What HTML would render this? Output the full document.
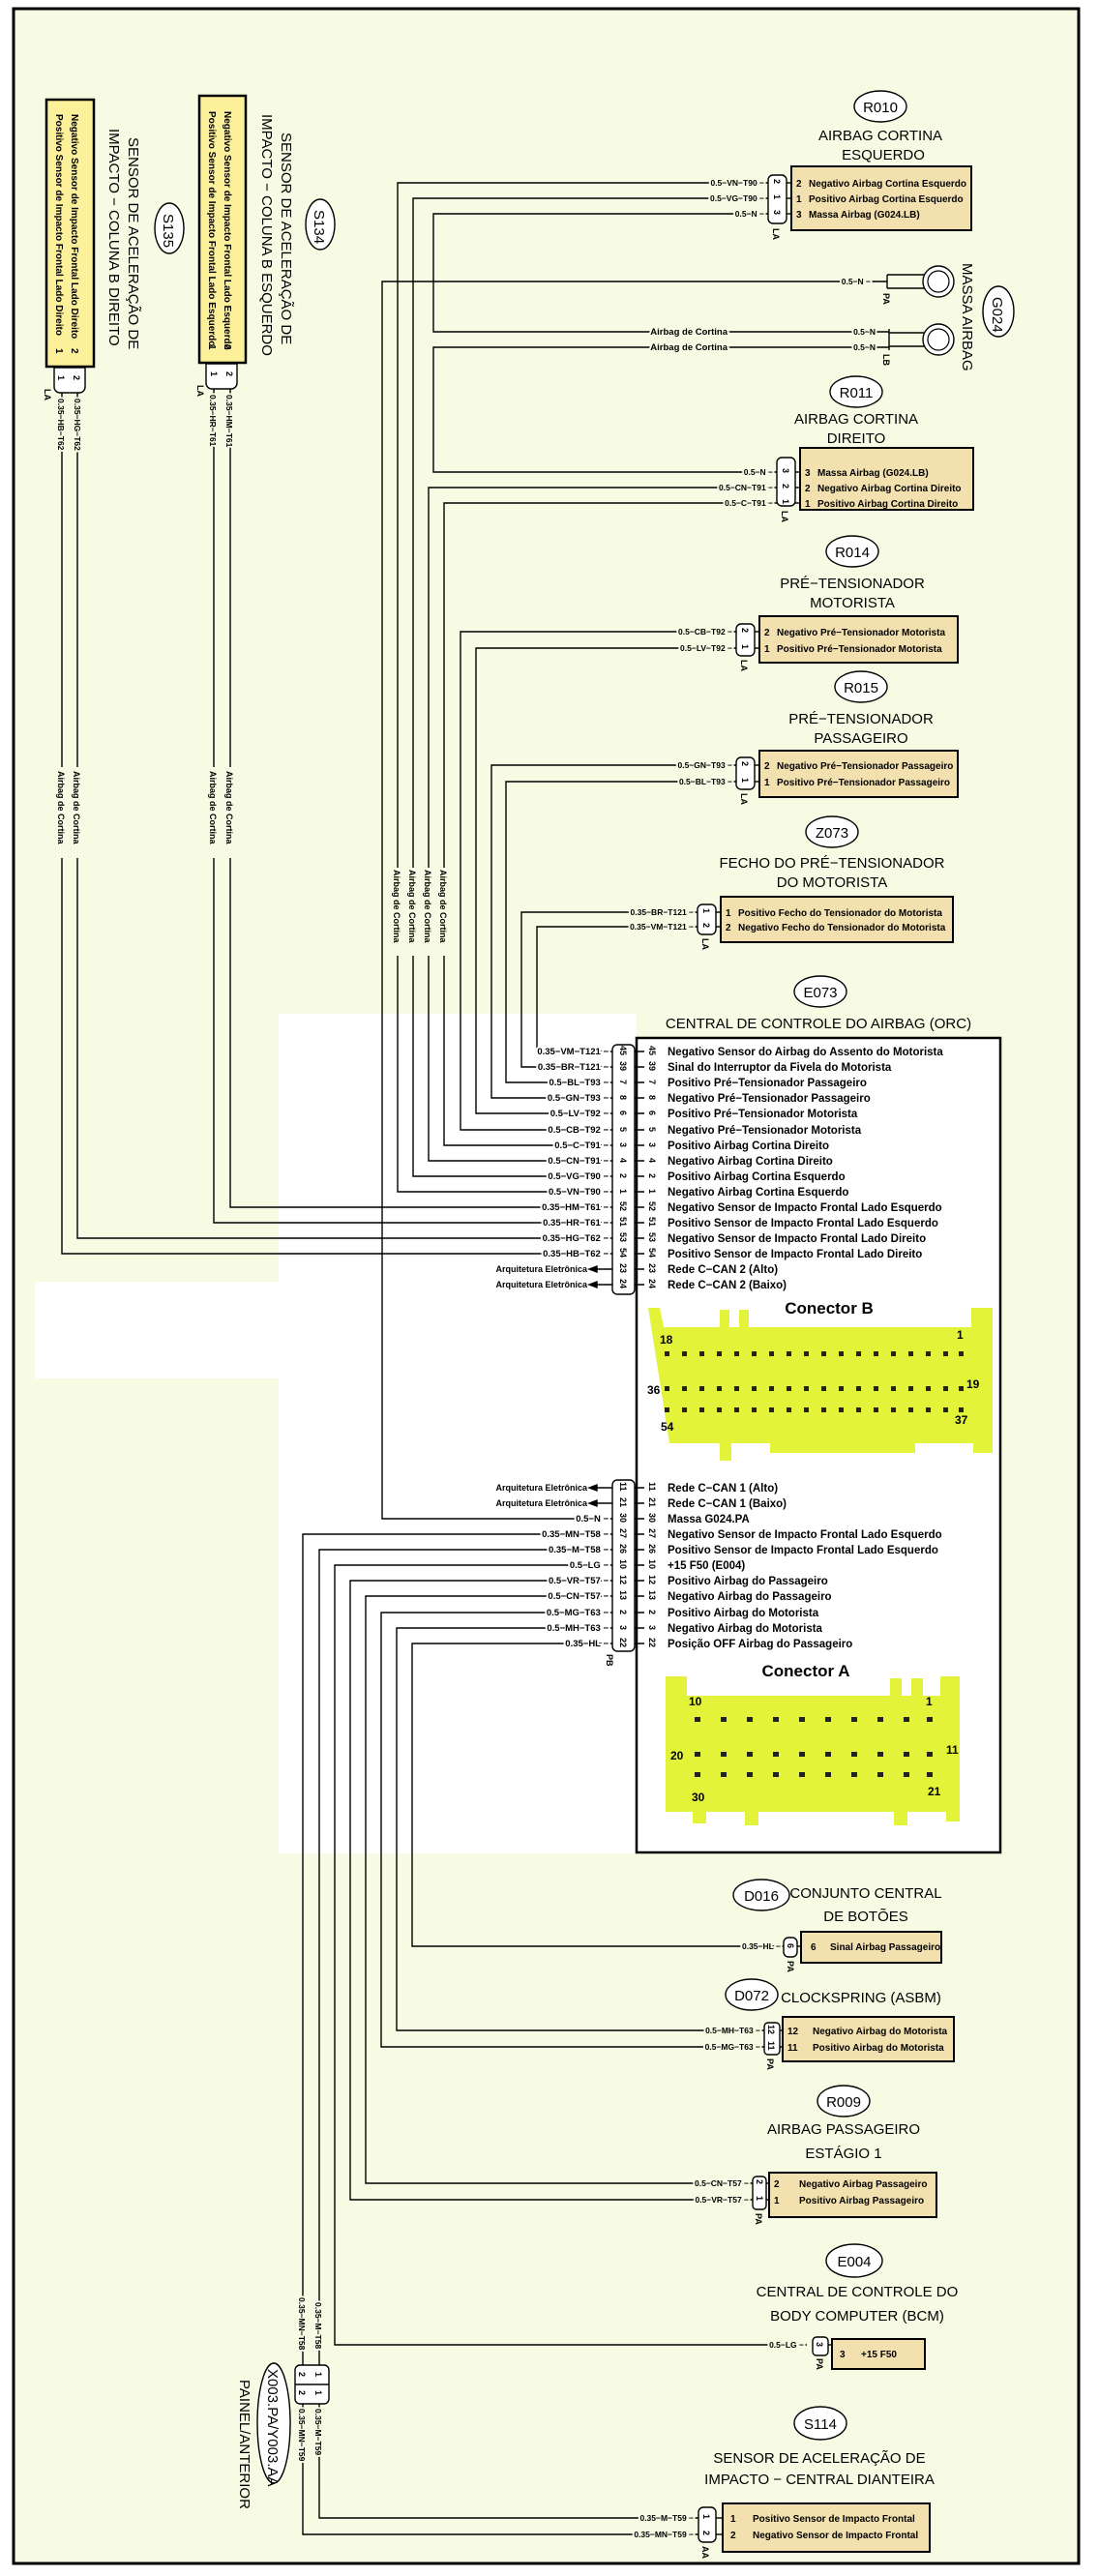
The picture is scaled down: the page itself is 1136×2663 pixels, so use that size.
<!DOCTYPE html>
<html><head><meta charset="utf-8"><style>
html,body{margin:0;padding:0;background:#fff}
svg{display:block}
text{font-family:"Liberation Sans Narrow","Liberation Sans",sans-serif;fill:#000}
.t{font-size:15px}
.d{font-size:10px;font-weight:bold}
.e{font-size:11.5px;font-weight:bold}
.w{font-size:8.5px;font-weight:bold;paint-order:stroke;stroke:#f7fbe4;stroke-width:4px}
.ww{font-size:9.5px;font-weight:bold;paint-order:stroke;stroke:#fff;stroke-width:4px}
.p{font-size:9px;font-weight:bold}
.o{font-size:15px}
.c{font-size:17px;font-weight:bold;font-family:"Liberation Sans",sans-serif}
.n{font-size:12px;font-weight:bold;font-family:"Liberation Sans",sans-serif}
line,polyline,path{stroke:#000;stroke-width:1.4;fill:none}
</style></head><body>
<svg width="1136" height="2663" viewBox="0 0 1136 2663" xmlns="http://www.w3.org/2000/svg">
<rect x="0" y="0" width="1136" height="2663" fill="#fff"/>
<rect x="14" y="9" width="1101" height="2641" fill="#f7fbe4" stroke="#000" stroke-width="3"/>
<rect x="288" y="1048" width="370" height="868" fill="#fff"/>
<rect x="36" y="1325" width="252" height="100" fill="#fff"/>

<!-- S135 -->
<rect x="48" y="103" width="49" height="276" fill="#fcf19a" stroke="#000" stroke-width="2.5"/>
<text class="d" transform="translate(74,118) rotate(90)">Negativo Sensor de Impacto Frontal Lado Direito</text>
<text class="d" transform="translate(58,118) rotate(90)">Positivo Sensor de Impacto Frontal Lado Direito</text>
<text class="d" transform="translate(74,360) rotate(90)">2</text>
<text class="d" transform="translate(58,360) rotate(90)">1</text>
<path d="M56,380 h32 v20 a6,6 0 0 1 -6,6 h-20 a6,6 0 0 1 -6,-6 z" style="fill:#fff"/>
<text class="p" transform="translate(76,388) rotate(90)">2</text>
<text class="p" transform="translate(60,388) rotate(90)">1</text>
<text class="p" transform="translate(46,402) rotate(90)">LA</text>
<text class="t" transform="translate(133,142) rotate(90)">SENSOR DE ACELERAÇÃO DE</text>
<text class="t" transform="translate(113,133) rotate(90)">IMPACTO − COLUNA B DIREITO</text>
<ellipse cx="175" cy="236" rx="15" ry="26" fill="#fff" stroke="#000" stroke-width="1.4"/>
<text class="o" transform="translate(169,221) rotate(90)">S135</text>
<line x1="64" y1="406" x2="64" y2="793"/><line x1="80" y1="406" x2="80" y2="793"/>
<text class="w" transform="translate(60,412) rotate(90)">0.35−HB−T62</text>
<text class="w" transform="translate(77,412) rotate(90)">0.35−HG−T62</text>
<text class="p" transform="translate(60,797) rotate(90)">Airbag de Cortina</text>
<text class="p" transform="translate(76,797) rotate(90)">Airbag de Cortina</text>
<polyline points="64,887 64,1296 633,1296"/>
<polyline points="80,887 80,1280 633,1280"/>

<!-- S134 -->
<rect x="206" y="99" width="48" height="276" fill="#fcf19a" stroke="#000" stroke-width="2.5"/>
<text class="d" transform="translate(232,115) rotate(90)">Negativo Sensor de Impacto Frontal Lado Esquerdo</text>
<text class="d" transform="translate(216,115) rotate(90)">Positivo Sensor de Impacto Frontal Lado Esquerdo</text>
<text class="d" transform="translate(232,356) rotate(90)">2</text>
<text class="d" transform="translate(216,356) rotate(90)">1</text>
<path d="M213,376 h32 v20 a6,6 0 0 1 -6,6 h-20 a6,6 0 0 1 -6,-6 z" style="fill:#fff"/>
<text class="p" transform="translate(234,384) rotate(90)">2</text>
<text class="p" transform="translate(218,384) rotate(90)">1</text>
<text class="p" transform="translate(204,398) rotate(90)">LA</text>
<text class="t" transform="translate(291,137) rotate(90)">SENSOR DE ACELERAÇÃO DE</text>
<text class="t" transform="translate(271,118) rotate(90)">IMPACTO − COLUNA B ESQUERDO</text>
<ellipse cx="331" cy="232" rx="15" ry="26" fill="#fff" stroke="#000" stroke-width="1.4"/>
<text class="o" transform="translate(325,217) rotate(90)">S134</text>
<line x1="221" y1="402" x2="221" y2="793"/><line x1="238" y1="402" x2="238" y2="793"/>
<text class="w" transform="translate(217,408) rotate(90)">0.35−HR−T61</text>
<text class="w" transform="translate(234,408) rotate(90)">0.35−HM−T61</text>
<text class="p" transform="translate(217,797) rotate(90)">Airbag de Cortina</text>
<text class="p" transform="translate(234,797) rotate(90)">Airbag de Cortina</text>
<polyline points="221,887 221,1264 633,1264"/>
<polyline points="238,887 238,1248 633,1248"/>

<!-- vertical bus wires -->
<polyline points="917,291 395,291 395,1570 633,1570"/>
<polyline points="794,189 411,189 411,897"/><polyline points="411,988 411,1232 633,1232"/>
<polyline points="794,205 427,205 427,897"/><polyline points="427,988 427,1216 633,1216"/>
<polyline points="803,504 443,504 443,897"/><polyline points="443,988 443,1200 633,1200"/>
<polyline points="803,520 459,520 459,897"/><polyline points="459,988 459,1184 633,1184"/>
<text class="p" transform="translate(407,899) rotate(90)">Airbag de Cortina</text>
<text class="p" transform="translate(423,899) rotate(90)">Airbag de Cortina</text>
<text class="p" transform="translate(439,899) rotate(90)">Airbag de Cortina</text>
<text class="p" transform="translate(455,899) rotate(90)">Airbag de Cortina</text>
<polyline points="794,221 448,221 448,343 915,343"/>
<polyline points="803,488 448,488 448,359 915,359"/>
<polyline points="761,653 476,653 476,1168 633,1168"/>
<polyline points="761,670 492,670 492,1151 633,1151"/>
<polyline points="761,791 508,791 508,1135 633,1135"/>
<polyline points="761,808 523,808 523,1119 633,1119"/>
<polyline points="721,943 539,943 539,1103 633,1103"/>
<polyline points="721,958 555,958 555,1087 633,1087"/>

<!-- R010 -->
<ellipse cx="910" cy="110" rx="27" ry="16" fill="#fff" stroke="#000" stroke-width="1.4"/>
<text class="o" x="910" y="116" text-anchor="middle">R010</text>
<text class="t" x="910" y="145" text-anchor="middle">AIRBAG CORTINA</text>
<text class="t" x="913" y="165" text-anchor="middle">ESQUERDO</text>
<rect x="818" y="172" width="186" height="66" fill="#f2e0ae" stroke="#000" stroke-width="2"/>
<rect x="794" y="181" width="19" height="50" rx="5" fill="#fff" stroke="#000" stroke-width="1.4"/>
<line x1="813" y1="189" x2="818" y2="189"/><line x1="813" y1="205" x2="818" y2="205"/><line x1="813" y1="221" x2="818" y2="221"/>
<text class="w" x="790" y="192" text-anchor="end">0.5−VN−T90 −</text>
<text class="w" x="790" y="208" text-anchor="end">0.5−VG−T90 −</text>
<text class="w" x="790" y="224" text-anchor="end">0.5−N −</text>
<text class="p" transform="translate(800,185) rotate(90)">2</text>
<text class="p" transform="translate(800,201) rotate(90)">1</text>
<text class="p" transform="translate(800,217) rotate(90)">3</text>
<text class="p" transform="translate(799,236) rotate(90)">LA</text>
<text class="d" x="823" y="193">2</text><text class="d" x="836" y="193">Negativo Airbag Cortina Esquerdo</text>
<text class="d" x="823" y="209">1</text><text class="d" x="836" y="209">Positivo Airbag Cortina Esquerdo</text>
<text class="d" x="823" y="225">3</text><text class="d" x="836" y="225">Massa Airbag (G024.LB)</text>

<!-- G024 -->
<text class="w" x="900" y="294" text-anchor="end">0.5−N −</text>
<path d="M917,284 h38 M917,298 h38 M917,284 v14"/>
<circle cx="970" cy="291" r="16" fill="#fff" stroke="#000" stroke-width="1.4"/><circle cx="970" cy="291" r="11" fill="none" stroke="#000" stroke-width="1.2"/>
<text class="p" transform="translate(913,303) rotate(90)">PA</text>
<text class="ww" x="752" y="346" text-anchor="end" style="stroke:#f7fbe4">Airbag de Cortina</text>
<text class="ww" x="752" y="362" text-anchor="end" style="stroke:#f7fbe4">Airbag de Cortina</text>
<text class="w" x="905" y="346" text-anchor="end">0.5−N</text>
<text class="w" x="905" y="362" text-anchor="end">0.5−N</text>
<path d="M915,343 h4 M915,359 h4 M919,340 v22 M919,344 h36 M919,358 h36"/>
<circle cx="970" cy="351" r="16" fill="#fff" stroke="#000" stroke-width="1.4"/><circle cx="970" cy="351" r="11" fill="none" stroke="#000" stroke-width="1.2"/>
<text class="p" transform="translate(913,366) rotate(90)">LB</text>
<text class="t" transform="translate(995,272) rotate(90)">MASSA AIRBAG</text>
<ellipse cx="1032" cy="322" rx="16" ry="26" fill="#fff" stroke="#000" stroke-width="1.4"/>
<text class="o" transform="translate(1026,307) rotate(90)">G024</text>

<!-- R011 -->
<ellipse cx="885" cy="405" rx="27" ry="16" fill="#fff" stroke="#000" stroke-width="1.4"/>
<text class="o" x="885" y="411" text-anchor="middle">R011</text>
<text class="t" x="885" y="438" text-anchor="middle">AIRBAG CORTINA</text>
<text class="t" x="885" y="458" text-anchor="middle">DIREITO</text>
<rect x="827" y="463" width="179" height="64" fill="#f2e0ae" stroke="#000" stroke-width="2"/>
<rect x="803" y="473" width="19" height="50" rx="5" fill="#fff" stroke="#000" stroke-width="1.4"/>
<line x1="822" y1="488" x2="827" y2="488"/><line x1="822" y1="504" x2="827" y2="504"/><line x1="822" y1="520" x2="827" y2="520"/>
<text class="w" x="799" y="491" text-anchor="end">0.5−N −</text>
<text class="w" x="799" y="507" text-anchor="end">0.5−CN−T91 −</text>
<text class="w" x="799" y="523" text-anchor="end">0.5−C−T91 −</text>
<text class="p" transform="translate(809,484) rotate(90)">3</text>
<text class="p" transform="translate(809,500) rotate(90)">2</text>
<text class="p" transform="translate(809,516) rotate(90)">1</text>
<text class="p" transform="translate(808,528) rotate(90)">LA</text>
<text class="d" x="832" y="492">3</text><text class="d" x="845" y="492">Massa Airbag (G024.LB)</text>
<text class="d" x="832" y="508">2</text><text class="d" x="845" y="508">Negativo Airbag Cortina Direito</text>
<text class="d" x="832" y="524">1</text><text class="d" x="845" y="524">Positivo Airbag Cortina Direito</text>

<!-- R014 -->
<ellipse cx="881" cy="570" rx="27" ry="16" fill="#fff" stroke="#000" stroke-width="1.4"/>
<text class="o" x="881" y="576" text-anchor="middle">R014</text>
<text class="t" x="881" y="608" text-anchor="middle">PRÉ−TENSIONADOR</text>
<text class="t" x="881" y="628" text-anchor="middle">MOTORISTA</text>
<rect x="785" y="637" width="205" height="48" fill="#f2e0ae" stroke="#000" stroke-width="2"/>
<rect x="761" y="645" width="19" height="33" rx="5" fill="#fff" stroke="#000" stroke-width="1.4"/>
<line x1="780" y1="653" x2="785" y2="653"/><line x1="780" y1="670" x2="785" y2="670"/>
<text class="w" x="757" y="656" text-anchor="end">0.5−CB−T92 −</text>
<text class="w" x="757" y="673" text-anchor="end">0.5−LV−T92 −</text>
<text class="p" transform="translate(767,649) rotate(90)">2</text>
<text class="p" transform="translate(767,666) rotate(90)">1</text>
<text class="p" transform="translate(766,682) rotate(90)">LA</text>
<text class="d" x="790" y="657">2</text><text class="d" x="803" y="657">Negativo Pré−Tensionador Motorista</text>
<text class="d" x="790" y="674">1</text><text class="d" x="803" y="674">Positivo Pré−Tensionador Motorista</text>

<!-- R015 -->
<ellipse cx="890" cy="710" rx="27" ry="16" fill="#fff" stroke="#000" stroke-width="1.4"/>
<text class="o" x="890" y="716" text-anchor="middle">R015</text>
<text class="t" x="890" y="748" text-anchor="middle">PRÉ−TENSIONADOR</text>
<text class="t" x="890" y="768" text-anchor="middle">PASSAGEIRO</text>
<rect x="785" y="776" width="205" height="48" fill="#f2e0ae" stroke="#000" stroke-width="2"/>
<rect x="761" y="783" width="19" height="33" rx="5" fill="#fff" stroke="#000" stroke-width="1.4"/>
<line x1="780" y1="791" x2="785" y2="791"/><line x1="780" y1="808" x2="785" y2="808"/>
<text class="w" x="757" y="794" text-anchor="end">0.5−GN−T93 −</text>
<text class="w" x="757" y="811" text-anchor="end">0.5−BL−T93 −</text>
<text class="p" transform="translate(767,787) rotate(90)">2</text>
<text class="p" transform="translate(767,804) rotate(90)">1</text>
<text class="p" transform="translate(766,820) rotate(90)">LA</text>
<text class="d" x="790" y="795">2</text><text class="d" x="803" y="795">Negativo Pré−Tensionador Passageiro</text>
<text class="d" x="790" y="812">1</text><text class="d" x="803" y="812">Positivo Pré−Tensionador Passageiro</text>

<!-- Z073 -->
<ellipse cx="860" cy="860" rx="27" ry="16" fill="#fff" stroke="#000" stroke-width="1.4"/>
<text class="o" x="860" y="866" text-anchor="middle">Z073</text>
<text class="t" x="860" y="897" text-anchor="middle">FECHO DO PRÉ−TENSIONADOR</text>
<text class="t" x="860" y="917" text-anchor="middle">DO MOTORISTA</text>
<rect x="745" y="927" width="240" height="47" fill="#f2e0ae" stroke="#000" stroke-width="2"/>
<rect x="721" y="935" width="19" height="31" rx="5" fill="#fff" stroke="#000" stroke-width="1.4"/>
<line x1="740" y1="943" x2="745" y2="943"/><line x1="740" y1="958" x2="745" y2="958"/>
<text class="w" x="717" y="946" text-anchor="end">0.35−BR−T121 −</text>
<text class="w" x="717" y="961" text-anchor="end">0.35−VM−T121 −</text>
<text class="p" transform="translate(727,939) rotate(90)">1</text>
<text class="p" transform="translate(727,954) rotate(90)">2</text>
<text class="p" transform="translate(726,970) rotate(90)">LA</text>
<text class="d" x="750" y="947">1</text><text class="d" x="763" y="947">Positivo Fecho do Tensionador do Motorista</text>
<text class="d" x="750" y="962">2</text><text class="d" x="763" y="962">Negativo Fecho do Tensionador do Motorista</text>

<!-- E073 -->
<ellipse cx="848" cy="1025" rx="27" ry="16" fill="#fff" stroke="#000" stroke-width="1.4"/>
<text class="o" x="848" y="1031" text-anchor="middle">E073</text>
<text class="t" x="846" y="1063" text-anchor="middle">CENTRAL DE CONTROLE DO AIRBAG (ORC)</text>
<rect x="658" y="1073" width="376" height="842" fill="#fff" stroke="#000" stroke-width="2.5"/>
<rect x="633" y="1080" width="23" height="258" rx="5" fill="#fff" stroke="#000" stroke-width="1.4"/>
<rect x="633" y="1530" width="23" height="177" rx="5" fill="#fff" stroke="#000" stroke-width="1.4"/>
<g>
<text class="e" x="690" y="1091">Negativo Sensor do Airbag do Assento do Motorista</text>
<text class="e" x="690" y="1107">Sinal do Interruptor da Fivela do Motorista</text>
<text class="e" x="690" y="1123">Positivo Pré−Tensionador Passageiro</text>
<text class="e" x="690" y="1139">Negativo Pré−Tensionador Passageiro</text>
<text class="e" x="690" y="1155">Positivo Pré−Tensionador Motorista</text>
<text class="e" x="690" y="1172">Negativo Pré−Tensionador Motorista</text>
<text class="e" x="690" y="1188">Positivo Airbag Cortina Direito</text>
<text class="e" x="690" y="1204">Negativo Airbag Cortina Direito</text>
<text class="e" x="690" y="1220">Positivo Airbag Cortina Esquerdo</text>
<text class="e" x="690" y="1236">Negativo Airbag Cortina Esquerdo</text>
<text class="e" x="690" y="1252">Negativo Sensor de Impacto Frontal Lado Esquerdo</text>
<text class="e" x="690" y="1268">Positivo Sensor de Impacto Frontal Lado Esquerdo</text>
<text class="e" x="690" y="1284">Negativo Sensor de Impacto Frontal Lado Direito</text>
<text class="e" x="690" y="1300">Positivo Sensor de Impacto Frontal Lado Direito</text>
<text class="e" x="690" y="1316">Rede C−CAN 2 (Alto)</text>
<text class="e" x="690" y="1332">Rede C−CAN 2 (Baixo)</text>
</g>
<g>
<text class="p" transform="translate(641,1081) rotate(90)">45</text><text class="p" transform="translate(671,1081) rotate(90)">45</text>
<text class="p" transform="translate(641,1097) rotate(90)">39</text><text class="p" transform="translate(671,1097) rotate(90)">39</text>
<text class="p" transform="translate(641,1116) rotate(90)">7</text><text class="p" transform="translate(671,1116) rotate(90)">7</text>
<text class="p" transform="translate(641,1132) rotate(90)">8</text><text class="p" transform="translate(671,1132) rotate(90)">8</text>
<text class="p" transform="translate(641,1148) rotate(90)">6</text><text class="p" transform="translate(671,1148) rotate(90)">6</text>
<text class="p" transform="translate(641,1165) rotate(90)">5</text><text class="p" transform="translate(671,1165) rotate(90)">5</text>
<text class="p" transform="translate(641,1181) rotate(90)">3</text><text class="p" transform="translate(671,1181) rotate(90)">3</text>
<text class="p" transform="translate(641,1197) rotate(90)">4</text><text class="p" transform="translate(671,1197) rotate(90)">4</text>
<text class="p" transform="translate(641,1213) rotate(90)">2</text><text class="p" transform="translate(671,1213) rotate(90)">2</text>
<text class="p" transform="translate(641,1229) rotate(90)">1</text><text class="p" transform="translate(671,1229) rotate(90)">1</text>
<text class="p" transform="translate(641,1242) rotate(90)">52</text><text class="p" transform="translate(671,1242) rotate(90)">52</text>
<text class="p" transform="translate(641,1258) rotate(90)">51</text><text class="p" transform="translate(671,1258) rotate(90)">51</text>
<text class="p" transform="translate(641,1274) rotate(90)">53</text><text class="p" transform="translate(671,1274) rotate(90)">53</text>
<text class="p" transform="translate(641,1290) rotate(90)">54</text><text class="p" transform="translate(671,1290) rotate(90)">54</text>
<text class="p" transform="translate(641,1306) rotate(90)">23</text><text class="p" transform="translate(671,1306) rotate(90)">23</text>
<text class="p" transform="translate(641,1322) rotate(90)">24</text><text class="p" transform="translate(671,1322) rotate(90)">24</text>
</g>
<path d="M656,1087h10M656,1103h10M656,1119h10M656,1135h10M656,1151h10M656,1168h10M656,1184h10M656,1200h10M656,1216h10M656,1232h10M656,1248h10M656,1264h10M656,1280h10M656,1296h10M656,1312h10M656,1328h10"/>
<g>
<text class="ww" x="629" y="1090" text-anchor="end">0.35−VM−T121 −</text>
<text class="ww" x="629" y="1106" text-anchor="end">0.35−BR−T121 −</text>
<text class="ww" x="629" y="1122" text-anchor="end">0.5−BL−T93 −</text>
<text class="ww" x="629" y="1138" text-anchor="end">0.5−GN−T93 −</text>
<text class="ww" x="629" y="1154" text-anchor="end">0.5−LV−T92 −</text>
<text class="ww" x="629" y="1171" text-anchor="end">0.5−CB−T92 −</text>
<text class="ww" x="629" y="1187" text-anchor="end">0.5−C−T91 −</text>
<text class="ww" x="629" y="1203" text-anchor="end">0.5−CN−T91 −</text>
<text class="ww" x="629" y="1219" text-anchor="end">0.5−VG−T90 −</text>
<text class="ww" x="629" y="1235" text-anchor="end">0.5−VN−T90 −</text>
<text class="ww" x="629" y="1251" text-anchor="end">0.35−HM−T61 −</text>
<text class="ww" x="629" y="1267" text-anchor="end">0.35−HR−T61 −</text>
<text class="ww" x="629" y="1283" text-anchor="end">0.35−HG−T62 −</text>
<text class="ww" x="629" y="1299" text-anchor="end">0.35−HB−T62 −</text>
<text class="p" x="607" y="1315" text-anchor="end">Arquitetura Eletrônica</text>
<text class="p" x="607" y="1331" text-anchor="end">Arquitetura Eletrônica</text>
</g>
<path d="M610,1312h23M610,1328h23"/>
<path d="M609,1312l8,-3v6z M609,1328l8,-3v6z" style="fill:#000"/>

<!-- Conector B photo -->
<text class="c" x="857" y="1358" text-anchor="middle">Conector B</text>
<path d="M670,1352 h12 l4,20 h58 v-18 h10 v18 h10 v-18 h10 v18 h230 v-20 h22 v150 h-20 v-10 h-60 v10 h-150 v-10 h-40 v18 h-12 v-18 h-52 z" style="fill:#e2f33a;stroke:none"/>
<g fill="#222">
<rect x="687" y="1397" width="5" height="5"/><rect x="705" y="1397" width="5" height="5"/><rect x="723" y="1397" width="5" height="5"/><rect x="741" y="1397" width="5" height="5"/><rect x="759" y="1397" width="5" height="5"/><rect x="777" y="1397" width="5" height="5"/><rect x="795" y="1397" width="5" height="5"/><rect x="813" y="1397" width="5" height="5"/><rect x="831" y="1397" width="5" height="5"/><rect x="849" y="1397" width="5" height="5"/><rect x="867" y="1397" width="5" height="5"/><rect x="885" y="1397" width="5" height="5"/><rect x="903" y="1397" width="5" height="5"/><rect x="921" y="1397" width="5" height="5"/><rect x="939" y="1397" width="5" height="5"/><rect x="957" y="1397" width="5" height="5"/><rect x="975" y="1397" width="5" height="5"/><rect x="991" y="1397" width="5" height="5"/>
<rect x="687" y="1433" width="5" height="5"/><rect x="705" y="1433" width="5" height="5"/><rect x="723" y="1433" width="5" height="5"/><rect x="741" y="1433" width="5" height="5"/><rect x="759" y="1433" width="5" height="5"/><rect x="777" y="1433" width="5" height="5"/><rect x="795" y="1433" width="5" height="5"/><rect x="813" y="1433" width="5" height="5"/><rect x="831" y="1433" width="5" height="5"/><rect x="849" y="1433" width="5" height="5"/><rect x="867" y="1433" width="5" height="5"/><rect x="885" y="1433" width="5" height="5"/><rect x="903" y="1433" width="5" height="5"/><rect x="921" y="1433" width="5" height="5"/><rect x="939" y="1433" width="5" height="5"/><rect x="957" y="1433" width="5" height="5"/><rect x="975" y="1433" width="5" height="5"/><rect x="991" y="1433" width="5" height="5"/>
<rect x="687" y="1455" width="5" height="5"/><rect x="705" y="1455" width="5" height="5"/><rect x="723" y="1455" width="5" height="5"/><rect x="741" y="1455" width="5" height="5"/><rect x="759" y="1455" width="5" height="5"/><rect x="777" y="1455" width="5" height="5"/><rect x="795" y="1455" width="5" height="5"/><rect x="813" y="1455" width="5" height="5"/><rect x="831" y="1455" width="5" height="5"/><rect x="849" y="1455" width="5" height="5"/><rect x="867" y="1455" width="5" height="5"/><rect x="885" y="1455" width="5" height="5"/><rect x="903" y="1455" width="5" height="5"/><rect x="921" y="1455" width="5" height="5"/><rect x="939" y="1455" width="5" height="5"/><rect x="957" y="1455" width="5" height="5"/><rect x="975" y="1455" width="5" height="5"/><rect x="991" y="1455" width="5" height="5"/>
</g>
<text class="n" x="682" y="1389">18</text><text class="n" x="989" y="1384">1</text>
<text class="n" x="669" y="1441">36</text><text class="n" x="999" y="1435">19</text>
<text class="n" x="683" y="1479">54</text><text class="n" x="987" y="1472">37</text>

<!-- Conector A pins -->
<g>
<text class="e" x="690" y="1542">Rede C−CAN 1 (Alto)</text>
<text class="e" x="690" y="1558">Rede C−CAN 1 (Baixo)</text>
<text class="e" x="690" y="1574">Massa G024.PA</text>
<text class="e" x="690" y="1590">Negativo Sensor de Impacto Frontal Lado Esquerdo</text>
<text class="e" x="690" y="1606">Positivo Sensor de Impacto Frontal Lado Esquerdo</text>
<text class="e" x="690" y="1622">+15 F50 (E004)</text>
<text class="e" x="690" y="1638">Positivo Airbag do Passageiro</text>
<text class="e" x="690" y="1654">Negativo Airbag do Passageiro</text>
<text class="e" x="690" y="1671">Positivo Airbag do Motorista</text>
<text class="e" x="690" y="1687">Negativo Airbag do Motorista</text>
<text class="e" x="690" y="1703">Posição OFF Airbag do Passageiro</text>
</g>
<g>
<text class="p" transform="translate(641,1532) rotate(90)">11</text><text class="p" transform="translate(671,1532) rotate(90)">11</text>
<text class="p" transform="translate(641,1548) rotate(90)">21</text><text class="p" transform="translate(671,1548) rotate(90)">21</text>
<text class="p" transform="translate(641,1564) rotate(90)">30</text><text class="p" transform="translate(671,1564) rotate(90)">30</text>
<text class="p" transform="translate(641,1580) rotate(90)">27</text><text class="p" transform="translate(671,1580) rotate(90)">27</text>
<text class="p" transform="translate(641,1596) rotate(90)">26</text><text class="p" transform="translate(671,1596) rotate(90)">26</text>
<text class="p" transform="translate(641,1612) rotate(90)">10</text><text class="p" transform="translate(671,1612) rotate(90)">10</text>
<text class="p" transform="translate(641,1628) rotate(90)">12</text><text class="p" transform="translate(671,1628) rotate(90)">12</text>
<text class="p" transform="translate(641,1644) rotate(90)">13</text><text class="p" transform="translate(671,1644) rotate(90)">13</text>
<text class="p" transform="translate(641,1664) rotate(90)">2</text><text class="p" transform="translate(671,1664) rotate(90)">2</text>
<text class="p" transform="translate(641,1680) rotate(90)">3</text><text class="p" transform="translate(671,1680) rotate(90)">3</text>
<text class="p" transform="translate(641,1693) rotate(90)">22</text><text class="p" transform="translate(671,1693) rotate(90)">22</text>
</g>
<path d="M656,1538h10M656,1554h10M656,1570h10M656,1586h10M656,1602h10M656,1618h10M656,1634h10M656,1650h10M656,1667h10M656,1683h10M656,1699h10"/>
<text class="p" transform="translate(627,1710) rotate(90)">PB</text>
<text class="p" x="607" y="1541" text-anchor="end">Arquitetura Eletrônica</text>
<text class="p" x="607" y="1557" text-anchor="end">Arquitetura Eletrônica</text>
<path d="M610,1538h23M610,1554h23"/>
<path d="M609,1538l8,-3v6z M609,1554l8,-3v6z" style="fill:#000"/>
<polyline points="633,1586 313,1586 313,2445"/>
<polyline points="633,1602 330,1602 330,2445"/>
<polyline points="633,1618 346,1618 346,2424 834,2424"/>
<polyline points="633,1634 362,1634 362,2274 778,2274"/>
<polyline points="633,1650 378,1650 378,2257 778,2257"/>
<polyline points="633,1667 394,1667 394,2116 790,2116"/>
<polyline points="633,1683 410,1683 410,2099 790,2099"/>
<polyline points="633,1699 426,1699 426,2012 810,2012"/>
<g>
<text class="ww" x="629" y="1573" text-anchor="end">0.5−N −</text>
<text class="ww" x="629" y="1589" text-anchor="end">0.35−MN−T58 −</text>
<text class="ww" x="629" y="1605" text-anchor="end">0.35−M−T58 −</text>
<text class="ww" x="629" y="1621" text-anchor="end">0.5−LG −</text>
<text class="ww" x="629" y="1637" text-anchor="end">0.5−VR−T57 −</text>
<text class="ww" x="629" y="1653" text-anchor="end">0.5−CN−T57 −</text>
<text class="ww" x="629" y="1670" text-anchor="end">0.5−MG−T63 −</text>
<text class="ww" x="629" y="1686" text-anchor="end">0.5−MH−T63 −</text>
<text class="ww" x="629" y="1702" text-anchor="end">0.35−HL −</text>
</g>
<text class="c" x="833" y="1733" text-anchor="middle">Conector A</text>
<path d="M688,1733 h22 v20 h210 v-18 h12 v18 h10 v-18 h12 v18 h18 v-20 h20 v150 h-14 v-10 h-40 v14 h-14 v-14 h-140 v14 h-14 v-14 h-40 v12 h-14 v-12 h-28 z" style="fill:#e2f33a;stroke:none"/>
<g fill="#222">
<rect x="718" y="1775" width="6" height="5"/><rect x="745" y="1775" width="6" height="5"/><rect x="772" y="1775" width="6" height="5"/><rect x="799" y="1775" width="6" height="5"/><rect x="826" y="1775" width="6" height="5"/><rect x="853" y="1775" width="6" height="5"/><rect x="880" y="1775" width="6" height="5"/><rect x="907" y="1775" width="6" height="5"/><rect x="934" y="1775" width="6" height="5"/><rect x="958" y="1775" width="6" height="5"/>
<rect x="718" y="1811" width="6" height="5"/><rect x="745" y="1811" width="6" height="5"/><rect x="772" y="1811" width="6" height="5"/><rect x="799" y="1811" width="6" height="5"/><rect x="826" y="1811" width="6" height="5"/><rect x="853" y="1811" width="6" height="5"/><rect x="880" y="1811" width="6" height="5"/><rect x="907" y="1811" width="6" height="5"/><rect x="934" y="1811" width="6" height="5"/><rect x="958" y="1811" width="6" height="5"/>
<rect x="718" y="1832" width="6" height="5"/><rect x="745" y="1832" width="6" height="5"/><rect x="772" y="1832" width="6" height="5"/><rect x="799" y="1832" width="6" height="5"/><rect x="826" y="1832" width="6" height="5"/><rect x="853" y="1832" width="6" height="5"/><rect x="880" y="1832" width="6" height="5"/><rect x="907" y="1832" width="6" height="5"/><rect x="934" y="1832" width="6" height="5"/><rect x="958" y="1832" width="6" height="5"/>
</g>
<text class="n" x="712" y="1763">10</text><text class="n" x="957" y="1763">1</text>
<text class="n" x="693" y="1819">20</text><text class="n" x="978" y="1813">11</text>
<text class="n" x="715" y="1862">30</text><text class="n" x="959" y="1856">21</text>

<!-- D016 -->
<ellipse cx="787" cy="1959" rx="29" ry="16" fill="#fff" stroke="#000" stroke-width="1.4"/>
<text class="o" x="787" y="1965" text-anchor="middle">D016</text>
<text class="t" x="895" y="1962" text-anchor="middle">CONJUNTO CENTRAL</text>
<text class="t" x="895" y="1986" text-anchor="middle">DE BOTÕES</text>
<rect x="828" y="1997" width="145" height="32" fill="#f2e0ae" stroke="#000" stroke-width="2"/>
<rect x="810" y="2003" width="14" height="20" rx="5" fill="#fff" stroke="#000" stroke-width="1.4"/>
<line x1="824" y1="2012" x2="828" y2="2012"/>
<text class="w" x="807" y="2015" text-anchor="end">0.35−HL −</text>
<text class="p" transform="translate(814,2009) rotate(90)">6</text>
<text class="p" transform="translate(814,2027) rotate(90)">PA</text>
<text class="d" x="838" y="2016">6</text><text class="d" x="858" y="2016">Sinal Airbag Passageiro</text>

<!-- D072 -->
<ellipse cx="777" cy="2062" rx="27" ry="16" fill="#fff" stroke="#000" stroke-width="1.4"/>
<text class="o" x="777" y="2068" text-anchor="middle">D072</text>
<text class="t" x="890" y="2070" text-anchor="middle">CLOCKSPRING (ASBM)</text>
<rect x="809" y="2085" width="177" height="46" fill="#f2e0ae" stroke="#000" stroke-width="2"/>
<rect x="790" y="2091" width="16" height="33" rx="4" fill="#fff" stroke="#000" stroke-width="1.4"/>
<line x1="806" y1="2099" x2="809" y2="2099"/><line x1="806" y1="2116" x2="809" y2="2116"/>
<text class="w" x="786" y="2102" text-anchor="end">0.5−MH−T63 −</text>
<text class="w" x="786" y="2119" text-anchor="end">0.5−MG−T63 −</text>
<text class="p" transform="translate(794,2093) rotate(90)">12</text>
<text class="p" transform="translate(794,2110) rotate(90)">11</text>
<text class="p" transform="translate(793,2128) rotate(90)">PA</text>
<text class="d" x="814" y="2103">12</text><text class="d" x="840" y="2103">Negativo Airbag do Motorista</text>
<text class="d" x="814" y="2120">11</text><text class="d" x="840" y="2120">Positivo Airbag do Motorista</text>

<!-- R009 -->
<ellipse cx="872" cy="2172" rx="27" ry="16" fill="#fff" stroke="#000" stroke-width="1.4"/>
<text class="o" x="872" y="2178" text-anchor="middle">R009</text>
<text class="t" x="872" y="2206" text-anchor="middle">AIRBAG PASSAGEIRO</text>
<text class="t" x="872" y="2231" text-anchor="middle">ESTÁGIO 1</text>
<rect x="795" y="2246" width="173" height="46" fill="#f2e0ae" stroke="#000" stroke-width="2"/>
<rect x="778" y="2250" width="14" height="34" rx="4" fill="#fff" stroke="#000" stroke-width="1.4"/>
<line x1="792" y1="2257" x2="795" y2="2257"/><line x1="792" y1="2274" x2="795" y2="2274"/>
<text class="w" x="774" y="2260" text-anchor="end">0.5−CN−T57 −</text>
<text class="w" x="774" y="2277" text-anchor="end">0.5−VR−T57 −</text>
<text class="p" transform="translate(782,2253) rotate(90)">2</text>
<text class="p" transform="translate(782,2270) rotate(90)">1</text>
<text class="p" transform="translate(781,2288) rotate(90)">PA</text>
<text class="d" x="800" y="2261">2</text><text class="d" x="826" y="2261">Negativo Airbag Passageiro</text>
<text class="d" x="800" y="2278">1</text><text class="d" x="826" y="2278">Positivo Airbag Passageiro</text>

<!-- E004 -->
<ellipse cx="883" cy="2337" rx="29" ry="17" fill="#fff" stroke="#000" stroke-width="1.4"/>
<text class="o" x="883" y="2343" text-anchor="middle">E004</text>
<text class="t" x="886" y="2374" text-anchor="middle">CENTRAL DE CONTROLE DO</text>
<text class="t" x="886" y="2399" text-anchor="middle">BODY COMPUTER (BCM)</text>
<rect x="860" y="2418" width="96" height="31" fill="#f2e0ae" stroke="#000" stroke-width="2"/>
<rect x="840" y="2416" width="16" height="19" rx="4" fill="#fff" stroke="#000" stroke-width="1.4"/>
<line x1="856" y1="2424" x2="860" y2="2424"/>
<text class="w" x="831" y="2427" text-anchor="end">0.5−LG −</text>
<text class="p" transform="translate(844,2421) rotate(90)">3</text>
<text class="p" transform="translate(844,2438) rotate(90)">PA</text>
<text class="d" x="868" y="2437">3</text><text class="d" x="890" y="2437">+15 F50</text>

<!-- S114 -->
<ellipse cx="848" cy="2505" rx="27" ry="17" fill="#fff" stroke="#000" stroke-width="1.4"/>
<text class="o" x="848" y="2511" text-anchor="middle">S114</text>
<text class="t" x="847" y="2546" text-anchor="middle">SENSOR DE ACELERAÇÃO DE</text>
<text class="t" x="847" y="2568" text-anchor="middle">IMPACTO − CENTRAL DIANTEIRA</text>
<rect x="747" y="2588" width="214" height="50" fill="#f2e0ae" stroke="#000" stroke-width="2"/>
<rect x="722" y="2592" width="18" height="36" rx="5" fill="#fff" stroke="#000" stroke-width="1.4"/>
<line x1="740" y1="2603" x2="747" y2="2603"/><line x1="740" y1="2620" x2="747" y2="2620"/>
<polyline points="330,2485 330,2603 722,2603"/>
<polyline points="313,2485 313,2620 722,2620"/>
<text class="w" x="717" y="2606" text-anchor="end">0.35−M−T59 −</text>
<text class="w" x="717" y="2623" text-anchor="end">0.35−MN−T59 −</text>
<text class="p" transform="translate(727,2599) rotate(90)">1</text>
<text class="p" transform="translate(727,2616) rotate(90)">2</text>
<text class="p" transform="translate(726,2632) rotate(90)">AA</text>
<text class="d" x="755" y="2607">1</text><text class="d" x="778" y="2607">Positivo Sensor de Impacto Frontal</text>
<text class="d" x="755" y="2624">2</text><text class="d" x="778" y="2624">Negativo Sensor de Impacto Frontal</text>

<!-- X003 -->
<rect x="305" y="2445" width="35" height="40" rx="5" fill="#fff" stroke="#000" stroke-width="1.4"/>
<line x1="305" y1="2465" x2="340" y2="2465"/>
<text class="p" transform="translate(326,2452) rotate(90)">1</text>
<text class="p" transform="translate(309,2452) rotate(90)">2</text>
<text class="p" transform="translate(326,2471) rotate(90)">1</text>
<text class="p" transform="translate(309,2471) rotate(90)">2</text>
<text class="w" transform="translate(326,2380) rotate(90)">0.35−M−T58</text>
<text class="w" transform="translate(309,2375) rotate(90)">0.35−MN−T58</text>
<text class="w" transform="translate(326,2490) rotate(90)">0.35−M−T59</text>
<text class="w" transform="translate(309,2490) rotate(90)">0.35−MN−T59</text>
<ellipse cx="283" cy="2505" rx="17" ry="62" fill="#fff" stroke="#000" stroke-width="1.4"/>
<text class="o" transform="translate(277,2449) rotate(90)">X003.PA/Y003.AA</text>
<text class="t" transform="translate(248,2460) rotate(90)">PAINEL/ANTERIOR</text>
</svg>
</body></html>
